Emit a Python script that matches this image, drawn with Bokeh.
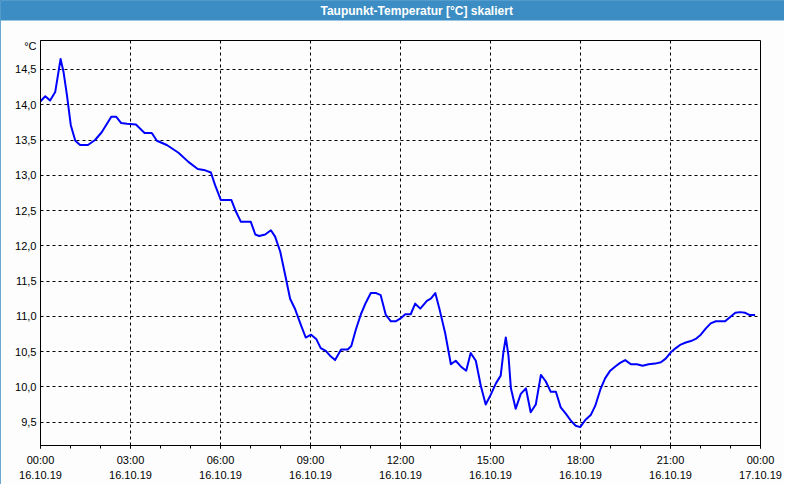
from bokeh.plotting import figure
from bokeh.models import FixedTicker, Range1d, Title
from bokeh.embed import file_html
from bokeh.resources import INLINE

# time of day in hours (16.10.19 00:00 = 0)
hours = [0.00, 0.16, 0.32, 0.49, 0.67, 0.77, 0.88, 1.01, 1.16, 1.32, 1.58, 1.82,
         2.04, 2.36, 2.52, 2.69, 2.88, 3.18, 3.47, 3.71, 3.88, 4.21, 4.60, 4.93,
         5.24, 5.49, 5.68, 5.82, 6.01, 6.36, 6.51, 6.68, 7.01, 7.16, 7.29, 7.49,
         7.68, 7.82, 7.99, 8.16, 8.32, 8.49, 8.66, 8.84, 9.02, 9.19, 9.34, 9.51,
         9.68, 9.82, 10.02, 10.24, 10.36, 10.51, 10.68, 10.84, 11.01, 11.19, 11.34,
         11.51, 11.68, 11.84, 12.00, 12.16, 12.34, 12.49, 12.66, 12.88, 13.01,
         13.16, 13.29, 13.49, 13.68, 13.84, 14.01, 14.19, 14.34, 14.51, 14.68,
         14.84, 15.01, 15.18, 15.34, 15.43, 15.51, 15.60, 15.68, 15.84, 16.01,
         16.18, 16.34, 16.51, 16.68, 16.84, 17.01, 17.18, 17.34, 17.51, 17.68,
         17.84, 17.99, 18.16, 18.34, 18.49, 18.66, 18.82, 18.99, 19.16, 19.32,
         19.49, 19.68, 19.88, 20.07, 20.27, 20.49, 20.68, 20.84, 21.01, 21.18,
         21.34, 21.51, 21.68, 21.84, 22.01, 22.18, 22.34, 22.51, 22.68, 22.82,
         22.99, 23.16, 23.32, 23.49, 23.63, 23.82]

# dew point temperature in °C
dewpoint = [14.05, 14.12, 14.06, 14.18, 14.65, 14.46, 14.14, 13.71, 13.49, 13.43, 13.43, 13.50,
            13.61, 13.83, 13.83, 13.74, 13.73, 13.72, 13.60, 13.60, 13.49, 13.43, 13.32, 13.19,
            13.09, 13.07, 13.04, 12.86, 12.65, 12.65, 12.49, 12.34, 12.34, 12.16, 12.14, 12.16,
            12.22, 12.13, 11.92, 11.58, 11.25, 11.10, 10.90, 10.70, 10.74, 10.68, 10.55, 10.51,
            10.43, 10.38, 10.53, 10.53, 10.58, 10.81, 11.03, 11.19, 11.33, 11.33, 11.30,
            11.02, 10.93, 10.93, 10.97, 11.03, 11.03, 11.18, 11.11, 11.22, 11.25,
            11.33, 11.12, 10.76, 10.32, 10.37, 10.29, 10.23, 10.48, 10.37, 10.01,
            9.75, 9.89, 10.05, 10.16, 10.49, 10.70, 10.44, 9.98, 9.69, 9.90,
            9.98, 9.64, 9.75, 10.17, 10.08, 9.93, 9.93, 9.71, 9.62, 9.52,
            9.45, 9.43, 9.53, 9.60, 9.73, 9.96, 10.12, 10.23, 10.29, 10.34,
            10.38, 10.32, 10.32, 10.30, 10.32, 10.33, 10.35, 10.40, 10.49, 10.55,
            10.60, 10.63, 10.65, 10.68, 10.74, 10.83, 10.90, 10.93, 10.93, 10.93,
            10.99, 11.05, 11.06, 11.05, 11.02, 11.02]

x_tick_hours = [0, 3, 6, 9, 12, 15, 18, 21, 24]
x_tick_labels = ["00:00\n16.10.19", "03:00\n16.10.19", "06:00\n16.10.19",
                 "09:00\n16.10.19", "12:00\n16.10.19", "15:00\n16.10.19",
                 "18:00\n16.10.19", "21:00\n16.10.19", "00:00\n17.10.19"]
x_minor_hours = list(range(0, 25))
y_ticks = [9.5, 10.0, 10.5, 11.0, 11.5, 12.0, 12.5, 13.0, 13.5, 14.0, 14.5]
y_tick_labels = ["9,5", "10,0", "10,5", "11,0", "11,5", "12,0", "12,5",
                 "13,0", "13,5", "14,0", "14,5"]
title_text = "Taupunkt-Temperatur [°C] skaliert"
unit_text = "°C"

BG = "#fcfdfc"
BAR = "#3b8dc4"
FONT = "Liberation Sans"

W, H = 784, 484
ymin, ymax = min(dewpoint), max(dewpoint)
pad = 0.05 * (ymax - ymin)
y_start, y_end = ymin - pad, ymax + pad
# the unit "°C" is shown as an extra label at the top of the value axis
unit_tick = y_end - 0.085

p = figure(width=W, height=H, output_backend="svg", toolbar_location=None,
           x_range=Range1d(0, 24), y_range=Range1d(y_start, y_end),
           min_border_left=40, min_border_right=24, min_border_top=40,
           min_border_bottom=36)
p.background_fill_color = BG
p.border_fill_color = BG
p.outline_line_color = "black"
p.outline_line_alpha = 1.0
p.outline_line_width = 1
p.styles = {"outline": "1px solid " + BAR, "outline-offset": "-1px"}

# spacer between the frame and the title bar
p.add_layout(Title(text=" ", standoff=2, text_font_size="12px",
                   text_font=FONT), "above")
# title bar: blue band across the top with the white bold caption
p.add_layout(Title(text=title_text, align="left", offset=-40, standoff=0,
                   vertical_align="top", padding=(320, 3),
                   text_color="white", text_font_style="bold",
                   text_font_size="12px", text_font=FONT,
                   background_fill_color=BAR, background_fill_alpha=1.0), "above")

# x axis
p.xaxis.ticker = FixedTicker(ticks=x_tick_hours, minor_ticks=x_minor_hours)
p.xaxis.major_label_overrides = {h: lab for h, lab in zip(x_tick_hours, x_tick_labels)}
p.xaxis.major_tick_out = 3
p.xaxis.major_tick_in = 0
p.xaxis.minor_tick_out = 3
p.xaxis.minor_tick_in = 0
p.xaxis.major_label_standoff = 5
p.xaxis.major_label_text_font = FONT
p.xaxis.major_label_text_font_size = "11px"
p.xaxis.major_label_text_line_height = 1.3
p.xaxis.major_label_text_color = "black"
p.xaxis.axis_line_color = "black"
p.xaxis.major_tick_line_color = "black"
p.xaxis.minor_tick_line_color = "black"

# y axis (value ticks plus the unit label at the top)
p.yaxis.ticker = FixedTicker(ticks=y_ticks + [unit_tick], minor_ticks=[])
overrides = {v: lab for v, lab in zip(y_ticks, y_tick_labels)}
overrides[unit_tick] = unit_text
p.yaxis.major_label_overrides = overrides
p.yaxis.major_tick_out = 0
p.yaxis.major_tick_in = 0
p.yaxis.minor_tick_out = 0
p.yaxis.minor_tick_in = 0
p.yaxis.major_label_standoff = 4
p.yaxis.major_label_text_font = FONT
p.yaxis.major_label_text_font_size = "11px"
p.yaxis.major_label_text_color = "black"
p.yaxis.axis_line_color = "black"

p.xgrid.ticker = FixedTicker(ticks=x_tick_hours, minor_ticks=[])
p.ygrid.ticker = FixedTicker(ticks=y_ticks, minor_ticks=[])
for g in (p.xgrid, p.ygrid):
    g.grid_line_color = "black"
    g.grid_line_dash = "3 3"
    g.grid_line_width = 1
    g.grid_line_alpha = 1.0

p.line(hours, dewpoint, line_color="#0000ff", line_width=2, line_join="round")

open("out.html", "w").write(file_html(p, INLINE))
